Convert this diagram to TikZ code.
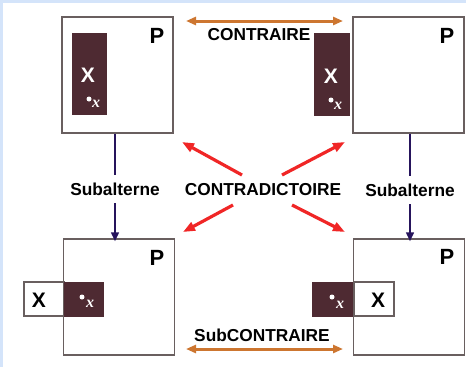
\documentclass[tikz,border=0pt]{standalone}
\usepackage{fontspec}
\setmainfont{Liberation Sans}
\newfontfamily\serifx{Liberation Serif}
\usetikzlibrary{arrows.meta}
\definecolor{dark}{RGB}{78,42,50}
\definecolor{orangeA}{RGB}{205,118,48}
\definecolor{navy}{RGB}{38,20,92}
\definecolor{redA}{RGB}{240,38,38}
\definecolor{frame}{RGB}{212,228,250}
\definecolor{boxline}{RGB}{105,95,95}
\begin{document}
\begin{tikzpicture}[x=1pt,y=-1pt,
  pbox/.style={draw=boxline,line width=1.1pt,fill=white,minimum width=111pt,minimum height=116pt,inner sep=0pt},
  darkbox/.style={fill=dark,draw=dark,line width=0.6pt,inner sep=0pt},
  xbox/.style={draw=boxline,line width=1.1pt,fill=white,inner sep=0pt},
  ptxt/.style={font=\bfseries\fontsize{22}{22}\selectfont,inner sep=0pt},
  xtxt/.style={font=\bfseries\fontsize{21}{21}\selectfont,inner sep=0pt},
  lbl/.style={font=\bfseries\fontsize{17.3}{17}\selectfont,inner sep=0pt},
  smallx/.style={font=\serifx\bfseries\itshape\fontsize{16}{16}\selectfont,text=white,inner sep=0pt},
  wdot/.style={circle,fill=white,inner sep=0pt,minimum size=5pt},
  orarrow/.style={draw=orangeA,line width=3pt,{Triangle[length=10pt,width=8pt]}-{Triangle[length=10pt,width=8pt]}},
  redarrow/.style={draw=redA,line width=3.2pt,-{Triangle[length=12pt,width=9pt]}},
  navyline/.style={draw=navy,line width=2.6pt},
  navyarrow/.style={draw=navy,line width=2.6pt,-{Triangle[length=9pt,width=7.5pt]}}
]
\useasboundingbox (0,0) rectangle (466,367);
\fill[frame] (0,0) rectangle (466,367);
\fill[white] (3,3) rectangle (466,367);

% boxes
\node[pbox] (A) at (117.5,75) {};
\node[pbox] (B) at (408.5,75) {};
\node[pbox] (C) at (119,297) {};
\node[pbox] (D) at (409,297) {};

% top-left inner
\node[darkbox,minimum width=34pt,minimum height=81pt] (Ad) at (89,73.5) {};
\node[xtxt,text=white] (AX) at (88,75) {X};
\node[wdot] (Adot) at (89,99) {};
\node[smallx] (Ax) at (96,104) {x};
\node[ptxt] (AP) at (157,36) {P};

% top-right inner
\node[darkbox,minimum width=35pt,minimum height=82pt] (Bd) at (331.5,74) {};
\node[xtxt,text=white] (BX) at (331,76) {X};
\node[wdot] (Bdot) at (331,100) {};
\node[smallx] (Bx) at (338,106) {x};
\node[ptxt] (BP) at (447,36) {P};

% bottom-left inner
\node[xbox,minimum width=40pt,minimum height=34pt] (Cxb) at (44,299) {};
\node[darkbox,minimum width=39pt,minimum height=34pt] (Cd) at (83.5,299) {};
\node[xtxt] (CX) at (39,300) {X};
\node[wdot] (Cdot) at (82,297) {};
\node[smallx] (Cx) at (90,304) {x};
\node[ptxt] (CP) at (157,258) {P};

% bottom-right inner
\node[darkbox,minimum width=42pt,minimum height=34pt] (Dd) at (333,299) {};
\node[xbox,minimum width=40pt,minimum height=34pt] (Dxb) at (374,299) {};
\node[xtxt] (DX) at (378,300) {X};
\node[wdot] (Ddot) at (332,297) {};
\node[smallx] (Dx) at (340,305) {x};
\node[ptxt] (DP) at (447,257) {P};

% labels
\node[lbl] (contraire) at (259,35) {CONTRAIRE};
\node[lbl] (subcontraire) at (262,335) {SubCONTRAIRE};
\node[lbl] (contradictoire) at (263,190) {CONTRADICTOIRE};
\node[lbl,minimum height=28pt] (subL) at (115,189) {Subalterne};
\node[lbl,minimum height=28pt] (subR) at (410,190) {Subalterne};

% orange arrows
\coordinate (o1) at (186,21);
\coordinate (o2) at (343,21);
\coordinate (o3) at (186,349);
\coordinate (o4) at (343,349);
\draw[orarrow] (o1) -- (o2);
\draw[orarrow] (o3) -- (o4);

% subalterne connectors
\draw[navyline] (subL.north |- A.south) -- (subL.north);
\draw[navyarrow] (subL.south) -- ([yshift=-3pt]subL.south |- C.north);
\draw[navyline] (subR.north |- B.south) -- (subR.north);
\draw[navyarrow] (subR.south) -- ([yshift=-3pt]subR.south |- D.north);

% red arrows
\coordinate (r1) at (242,175);
\coordinate (r2) at (282,175);
\coordinate (r3) at (233,205);
\coordinate (r4) at (292,205);
\coordinate (t1) at (182,142);
\coordinate (t2) at (345,142);
\coordinate (t3) at (183,232);
\coordinate (t4) at (345,232);
\draw[redarrow] (r1) -- (t1);
\draw[redarrow] (r2) -- (t2);
\draw[redarrow] (r3) -- (t3);
\draw[redarrow] (r4) -- (t4);
\end{tikzpicture}
\end{document}
